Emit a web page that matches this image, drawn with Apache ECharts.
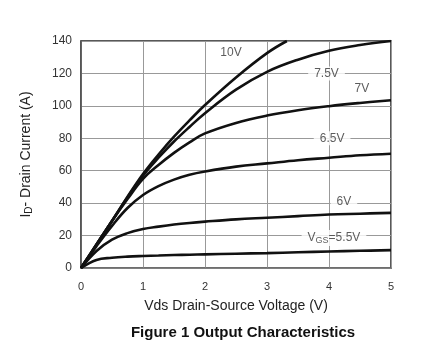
<!DOCTYPE html>
<html><head><meta charset="utf-8">
<script src="https://cdn.jsdelivr.net/npm/echarts@6/dist/echarts.min.js"></script>
<style>html,body{margin:0;padding:0;background:#fff}#c{width:441px;height:353px}</style>
</head><body><div id="c"></div>
<script>
const vds = [0,0.25,0.5,0.75,1,1.25,1.5,1.75,2,2.5,3,3.5,4,4.5,5];
const id10 = [0,14.5,29,44,58,70,81,91,100.5,117.5,132.5];
const id10End = [3.32,140];
const id75 = [0,14.5,29,43.5,57,68,78,87,95.5,110,121,128.5,134,137.5,140];
const id7  = [0,14.5,29,42.5,55,63.5,71,77.5,83,89.5,94,97.3,99.8,101.8,103.5];
const id65 = [0,13.5,26,37,45,50.5,54.5,57.5,59.5,62.5,64.5,66.5,68,69.5,70.5];
const id6  = [0,10.5,17.5,21.5,24,25.5,26.8,27.8,28.6,30,31,32,33,33.5,34];
const id55 = [0,5,6.3,7,7.4,7.7,8,8.2,8.4,8.8,9.2,9.7,10.2,10.6,11];
const curveNames = ['10V','7.5V','7V','6.5V','6V','{v|V}{s|GS}{v|=5.5V}'];
const labelPos = [[2.42,133],[3.96,120],[4.53,110.5],[4.05,80],[4.24,41],[4.08,18.5]];
const xTicks = [0,1,2,3,4,5];

function pts(ys){ return ys.map((y,i)=>[vds[i],y]); }
const d10 = pts(id10).concat([id10End]);

const font = 'Liberation Sans, Arial, sans-serif';
const lineStyle = {color:'#111', width:2.6};
function curve(data){
  return {type:'line', data, smooth:0.4, symbol:'none', lineStyle, z:3, animation:false};
}
const chart = echarts.init(document.getElementById('c'));
chart.setOption({
  animation:false,
  title:{text:'Figure 1 Output Characteristics', left:238, top:320, textAlign:'center',
    textStyle:{fontFamily:font, fontSize:15, fontWeight:'bold', color:'#111'}},
  grid:{left:81, right:50, top:41, bottom:85, show:true, borderColor:'#222', borderWidth:1.5},
  xAxis:{type:'value', min:0, max:5, interval:1,
    name:'Vds Drain-Source Voltage (V)', nameLocation:'middle', nameGap:31,
    nameTextStyle:{fontFamily:font, fontSize:14, color:'#222'},
    axisLine:{show:true, lineStyle:{color:'#777', width:1.5}}, axisTick:{show:false},
    axisLabel:{fontFamily:font, fontSize:11, color:'#333', margin:13, formatter:v=>xTicks.includes(v)?String(v):''},
    splitLine:{show:true, lineStyle:{color:'#999', width:1}}},
  yAxis:{type:'value', min:0, max:140, interval:20,
    name:'{n|I}{s|D}{n|- Drain Current (A)}', nameLocation:'middle', nameGap:47, nameRotate:90,
    nameTextStyle:{fontFamily:font, fontSize:14, color:'#222',
      rich:{n:{fontFamily:font, fontSize:14, color:'#222'}, s:{fontFamily:font, fontSize:10, color:'#222', padding:[6,0,0,0]}}},
    axisLine:{show:true, lineStyle:{color:'#555', width:1.5}}, axisTick:{show:false},
    axisLabel:{fontFamily:font, fontSize:12, color:'#333', margin:9},
    splitLine:{show:true, lineStyle:{color:'#999', width:1}}},
  series:[
    curve(d10), curve(pts(id75)), curve(pts(id7)), curve(pts(id65)), curve(pts(id6)), curve(pts(id55)),
    {type:'scatter', symbolSize:0, z:5, animation:false, silent:true,
     data: labelPos.map((p,i)=>({value:p, name:curveNames[i]})),
     label:{show:true, position:'inside', formatter:p=>p.name,
       fontFamily:font, fontSize:12, color:'#333', backgroundColor:'#fff', padding:[1,6],
       rich:{v:{fontFamily:font, fontSize:12, color:'#333'}, s:{fontFamily:font, fontSize:9, color:'#333', padding:[5,0,0,0]}}}}
  ]
});
</script></body></html>
